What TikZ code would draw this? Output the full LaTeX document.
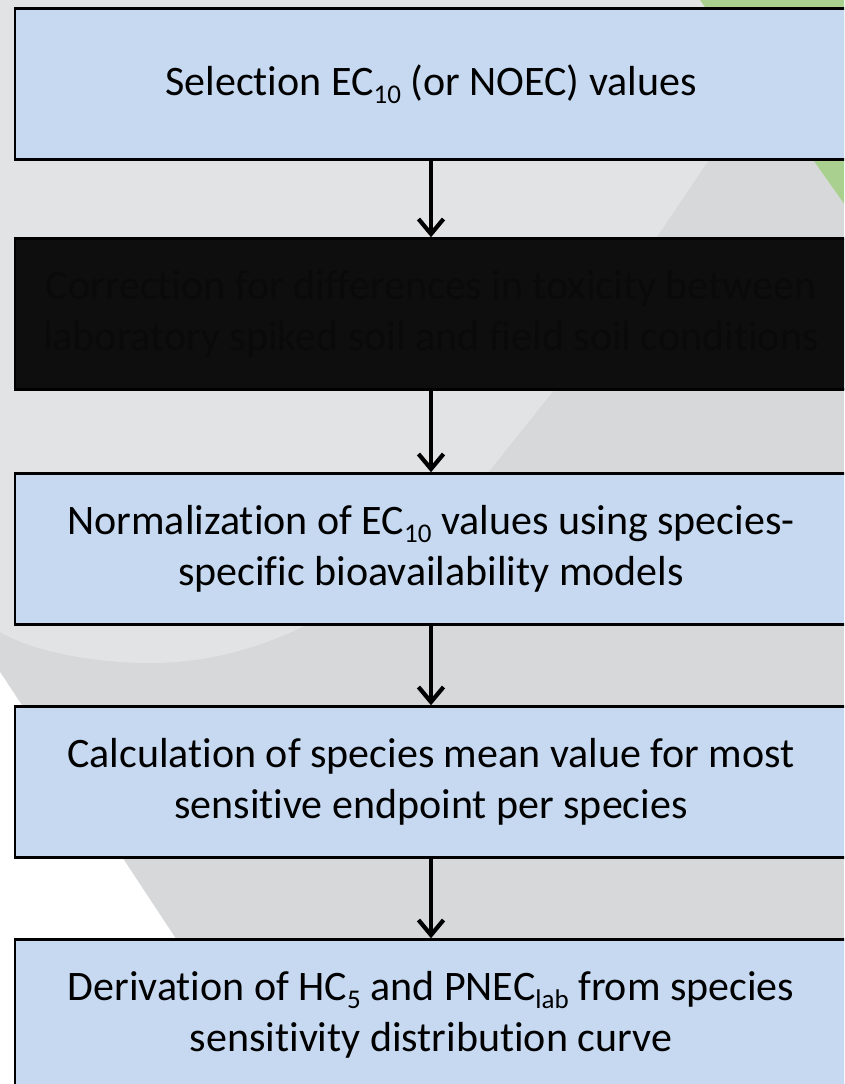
\documentclass[tikz,border=0pt]{standalone}
\usepackage{fontspec}
\setmainfont{Carlito}[Ligatures={NoCommon,NoContextual,NoRare},RawFeature={-calt}]
\usetikzlibrary{arrows.meta}
\definecolor{bglight}{HTML}{E2E3E5}
\definecolor{bgdark}{HTML}{D7D8DA}
\definecolor{leaf}{HTML}{A9D08E}
\definecolor{boxblue}{HTML}{C6D9F1}
\definecolor{boxdark}{HTML}{0E0E0E}
\definecolor{darktext}{HTML}{0A0A0A}
\newcommand{\mysub}[1]{\raisebox{-8pt}{\fontsize{27}{27}\selectfont #1}}
\tikzset{
  stepbox/.style={draw=black, line width=2.5pt, fill=boxblue, minimum width=832pt,
    minimum height=151pt, align=center, inner sep=0pt, font=\fontsize{42}{51}\selectfont},
  darkbox/.style={stepbox, fill=boxdark, text=darktext},
  flow/.style={line width=4.2pt, -{Straight Barb[length=15pt,width=25pt]}}
}
\begin{document}
\begin{tikzpicture}[x=1pt,y=-1pt]
\useasboundingbox (0,0) rectangle (844,1084);
\clip (0,0) rectangle (844,1084);
\fill[bgdark] (0,0) rectangle (844,1084);
\fill[bglight] (0,0) -- (816,0) -- (710,158) -- (554,390) -- (490,470)
  .. controls (420,560) and (300,663) .. (150,663)
  .. controls (90,663) and (30,650) .. (0,632) -- cycle;
\fill[white] (0,672) -- (180,945) -- (180,1084) -- (0,1084) -- cycle;
\fill[leaf] (700,0) -- (850,0) -- (850,212) -- cycle;

\node[stepbox] (b1) at (431,84) {Selection EC\mysub{10} (or NOEC) values};
\node[darkbox] (b2) at (431,314) {Correction for differences in toxicity between\\laboratory spiked soil and field soil conditions};
\node[stepbox] (b3) at (431,549) {Normalization of EC\mysub{10} values using species-\\specific bioavailability models};
\node[stepbox] (b4) at (431,782) {Calculation of species mean value for most\\sensitive endpoint per species};
\node[stepbox] (b5) at (431,1015) {Derivation of HC\mysub{5} and PNEC\mysub{lab} from species\\sensitivity distribution curve};

\draw[flow] (b1) -- (b2);
\draw[flow] (b2) -- (b3);
\draw[flow] (b3) -- (b4);
\draw[flow] (b4) -- (b5);
\end{tikzpicture}
\end{document}
